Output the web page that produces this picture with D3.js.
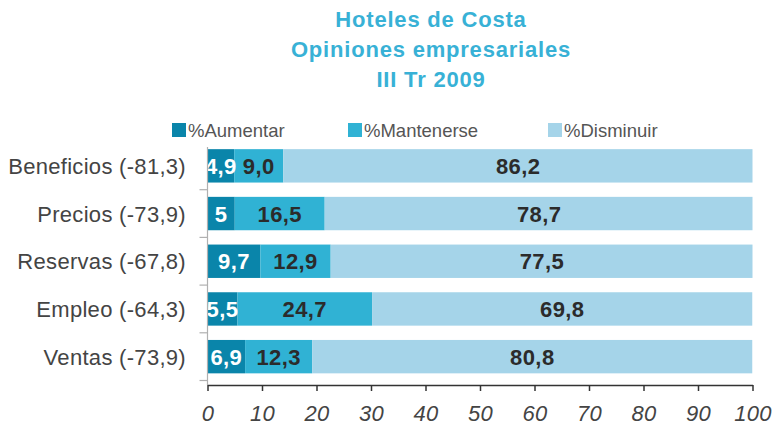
<!DOCTYPE html>
<html>
<head>
<meta charset="utf-8">
<script src="https://cdn.jsdelivr.net/npm/d3@7"></script>
<style>
  html, body { margin: 0; padding: 0; background: #ffffff; }
  svg { display: block; font-family: "Liberation Sans", Arial, Helvetica, sans-serif; }
</style>
</head>
<body>
<svg id="chart" width="772" height="430"></svg>
<script>
// Hoteles de Costa — opiniones empresariales, III Tr 2009 (% de respuestas)
const titleLines = ["Hoteles de Costa", "Opiniones empresariales", "III Tr 2009"];
const categories = ["Beneficios (-81,3)", "Precios (-73,9)", "Reservas (-67,8)", "Empleo (-64,3)", "Ventas (-73,9)"];
const seriesNames = ["%Aumentar", "%Mantenerse", "%Disminuir"];
const aumentar   = [4.9, 5, 9.7, 5.5, 6.9];
const mantenerse = [9.0, 16.5, 12.9, 24.7, 12.3];
const disminuir  = [86.2, 78.7, 77.5, 69.8, 80.8];
const valueLabels = [
  ["4,9", "5", "9,7", "5,5", "6,9"],
  ["9,0", "16,5", "12,9", "24,7", "12,3"],
  ["86,2", "78,7", "77,5", "69,8", "80,8"]
];
const xTicks = [0, 10, 20, 30, 40, 50, 60, 70, 80, 90, 100];

const colors = ["#0a85aa", "#30b2d4", "#a5d4e9"];
const labelColors = ["#ffffff", "#2b2b2b", "#2b2b2b"];

const svg = d3.select("#chart");
const plotLeft = 207.5, plotRight = 752.5, plotTop = 142, plotBottom = 380.5, axisY = 385;

const rows = categories.map((c, i) => ({ cat: c, vals: [aumentar[i], mantenerse[i], disminuir[i]] }));
const stack = d3.stack().keys([0, 1, 2]).value((d, k) => d.vals[k]);
const layers = stack(rows);

const x = d3.scaleLinear().domain([0, 100]).range([plotLeft, plotRight]);
const y = d3.scaleBand().domain(categories).range([plotTop, plotBottom]).paddingInner(0.3).paddingOuter(0.15);

// Title
svg.append("g").selectAll("text").data(titleLines).join("text")
  .attr("x", 431).attr("y", (d, i) => 26.5 + i * 30)
  .attr("text-anchor", "middle")
  .attr("font-size", 22).attr("font-weight", "bold")
  .attr("letter-spacing", 0.8)
  .attr("fill", "#38b1d6")
  .text(d => d);

// Legend
const legendX = [172, 348, 548];
const legend = svg.append("g").selectAll("g").data(seriesNames).join("g")
  .attr("transform", (d, i) => `translate(${legendX[i]},123)`);
legend.append("rect").attr("width", 14).attr("height", 14).attr("fill", (d, i) => colors[i]);
legend.append("text").attr("x", 16).attr("y", 13.5)
  .attr("font-size", 18.5).attr("fill", "#555").text(d => d);

// Bars, clipped to the 0–100 plot area
svg.append("defs").append("clipPath").attr("id", "plotClip")
  .append("rect").attr("x", plotLeft).attr("y", plotTop - 5)
  .attr("width", plotRight - plotLeft).attr("height", plotBottom - plotTop + 10);

const plot = svg.append("g").attr("clip-path", "url(#plotClip)");
layers.forEach((layer, k) => {
  plot.append("g").selectAll("rect").data(layer).join("rect")
    .attr("x", d => x(d[0]))
    .attr("y", d => y(d.data.cat))
    .attr("width", d => x(d[1]) - x(d[0]))
    .attr("height", y.bandwidth())
    .attr("fill", colors[k]);
});
layers.forEach((layer, k) => {
  plot.append("g").selectAll("text").data(layer).join("text")
    .attr("x", d => x((d[0] + d[1]) / 2))
    .attr("y", d => y(d.data.cat) + y.bandwidth() / 2 + 8)
    .attr("text-anchor", "middle")
    .attr("font-size", 22).attr("font-weight", "bold")
    .attr("letter-spacing", 0.4)
    .attr("fill", labelColors[k])
    .text((d, i) => valueLabels[k][i]);
});

// Category axis: vertical line, ticks between bands, labels
const yAxis = svg.append("g");
const boundary = d => y(d) + y.bandwidth() + y.step() * y.paddingInner() / 2;
yAxis.append("line").attr("x1", plotLeft).attr("x2", plotLeft).attr("y1", plotTop + 5).attr("y2", axisY)
  .attr("stroke", "#b0b0b0").attr("stroke-width", 1.2);
yAxis.selectAll("line.tick").data(categories).join("line").attr("class", "tick")
  .attr("x1", plotLeft - 8).attr("x2", plotLeft)
  .attr("y1", boundary).attr("y2", boundary)
  .attr("stroke", "#b0b0b0").attr("stroke-width", 1.2);
yAxis.selectAll("text").data(categories).join("text")
  .attr("x", 186).attr("y", d => y(d) + y.bandwidth() / 2 + 8)
  .attr("text-anchor", "end")
  .attr("font-size", 22).attr("letter-spacing", 0.3)
  .attr("fill", "#444").text(d => d);

// Value axis
const xAxis = svg.append("g").attr("transform", `translate(0,${axisY})`)
  .call(d3.axisBottom(x).tickValues(xTicks).tickFormat(d3.format("d")).tickSize(6).tickSizeOuter(0).tickPadding(14));
xAxis.select(".domain").attr("stroke", "#333").attr("stroke-width", 1.5);
xAxis.selectAll(".tick line").attr("stroke", "#333").attr("stroke-width", 1.5);
xAxis.selectAll(".tick text")
  .attr("font-family", "'Liberation Sans', Arial, sans-serif")
  .attr("font-size", 22).attr("font-style", "italic")
  .attr("letter-spacing", 0.3)
  .attr("fill", "#444");
</script>
</body>
</html>
